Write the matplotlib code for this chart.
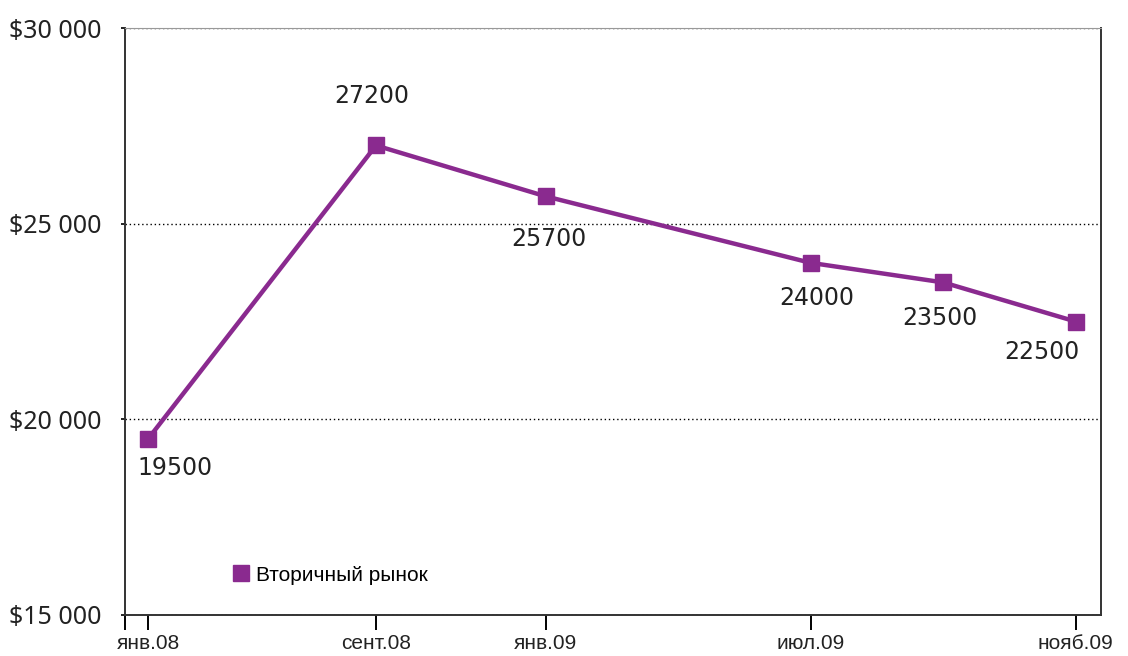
import matplotlib.pyplot as plt
from matplotlib.ticker import FuncFormatter

# x positions follow the uneven spacing of the original layout
x_pos = [0, 1.72, 3.0, 5.0, 6.0, 7.0]
prices = [19500, 27000, 25700, 24000, 23500, 22500]
point_labels = ["19500", "27200", "25700", "24000", "23500", "22500"]
tick_pos = [0, 1.72, 3.0, 5.0, 7.0]
tick_labels = ["янв.08", "сент.08", "янв.09", "июл.09", "нояб.09"]
series_name = "Вторичный рынок"

CLR = "#8a2a8f"
# label offsets in pixels (dx, dy)
OFFS = [(27, -29), (-4, 49), (3, -43), (6, -35), (-3, -36), (-34, -30)]

fig = plt.figure(figsize=(11.28, 6.56), dpi=100)
ax = fig.add_axes([0.1108, 0.0625, 0.8652, 0.8947])

ax.plot(x_pos, prices, color=CLR, lw=3.2, marker='s', ms=11,
        mfc=CLR, mec=CLR, label=series_name, zorder=3)

for xp, yp, lab, (dx, dy) in zip(x_pos, prices, point_labels, OFFS):
    ax.annotate(lab, (xp, yp), xytext=(dx, dy), textcoords='offset pixels',
                ha='center', va='center', fontsize=17, color='#222222',
                family='DejaVu Sans')

ax.set_xlim(-0.174, 7.19)
ax.set_ylim(15000, 30000)
ax.set_yticks([15000, 20000, 25000, 30000])
ax.yaxis.set_major_formatter(FuncFormatter(lambda v, p: "$" + f"{int(v):,}".replace(",", " ")))
for t in ax.get_yticklabels():
    t.set_family('Noto Sans')
    t.set_fontsize(18)
    t.set_color('#222222')
ax.tick_params(axis='y', length=3, width=1.2, pad=14)

ax.set_xticks([-0.174] + tick_pos)
ax.set_xticklabels([""] + tick_labels, family=['Liberation Sans Narrow', 'Liberation Sans'],
                   fontsize=15, color='#222222')
ax.tick_params(axis='x', length=11, width=1.4, pad=3)

ax.grid(axis='y', linestyle=(0, (1, 2)), color='black', lw=1)
ax.set_axisbelow(True)
ax.spines['top'].set_color('#999999')
for s in ['left', 'bottom', 'right']:
    ax.spines[s].set_linewidth(1.4)
    ax.spines[s].set_color('#333333')

ax.legend(loc='lower left', bbox_to_anchor=(0.1, 0.02), frameon=False,
          handlelength=0, handletextpad=0.7, markerscale=1.0,
          prop={'family': 'Liberation Sans', 'size': 15})

fig.savefig("out.png", dpi=100)
